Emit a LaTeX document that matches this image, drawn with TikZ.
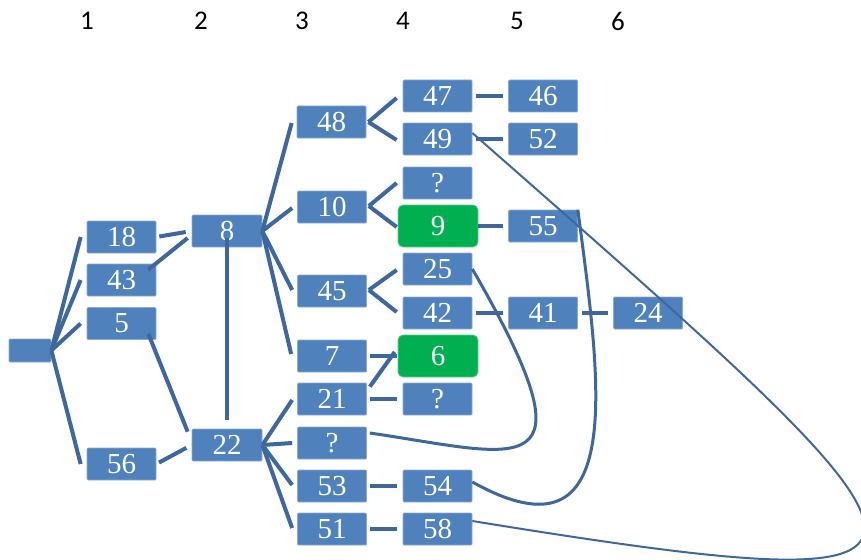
\documentclass[tikz,border=0pt]{standalone}
\usepackage{fontspec}
\newfontfamily\hdrfont{Carlito}
\newfontfamily\boxfont{Liberation Serif}
\usetikzlibrary{calc}
\definecolor{boxblue}{HTML}{4F81BD}
\definecolor{boxedge}{HTML}{8DAAD6}
\definecolor{boxgreen}{HTML}{00B050}
\definecolor{greenedge}{HTML}{5CCB8C}
\definecolor{linkcol}{HTML}{3E679E}
\begin{document}
\begin{tikzpicture}[x=1pt,y=-1pt,
  bx/.style={rectangle, fill=boxblue, draw=boxedge, line width=0.7pt, rounded corners=1pt,
    minimum width=69pt, minimum height=32pt, inner sep=0pt, text=white,
    font=\boxfont\fontsize{29}{30}\selectfont},
  gbx/.style={bx, fill=boxgreen, draw=greenedge, rounded corners=5pt,
    minimum width=80pt, minimum height=42pt},
  hdr/.style={font=\hdrfont\fontsize{27}{28}\selectfont, text=black, inner sep=0pt},
  lk/.style={draw=linkcol, line width=4pt},
  cv/.style={draw=linkcol, line width=3pt},
  cvthin/.style={draw=linkcol, line width=2pt}]
\useasboundingbox (0,0) rectangle (861,559);
\clip (0,0) rectangle (861,559);

% column headers
\node[hdr] (h1) at (87,21) {1};
\node[hdr] (h2) at (201,21) {2};
\node[hdr] (h3) at (302,21) {3};
\node[hdr] (h4) at (403,21) {4};
\node[hdr] (h5) at (517,21) {5};
\node[hdr] (h6) at (618,21) {6};

% boxes
\node[bx, minimum width=42pt, minimum height=23pt] (root) at (30,350.5) {};
\node[bx] (n18) at (121.5,237) {18};
\node[bx] (n43) at (121.5,280) {43};
\node[bx] (n5)  at (121.5,323.5) {5};
\node[bx] (n56) at (121.5,464) {56};
\node[bx, minimum width=70pt] (n8)  at (227,231) {8};
\node[bx, minimum width=70pt] (n22) at (227,445) {22};
\node[bx] (n48) at (331.5,122) {48};
\node[bx] (n10) at (332,207) {10};
\node[bx] (n45) at (332,291) {45};
\node[bx] (n7)  at (332,356) {7};
\node[bx] (n21) at (332,399) {21};
\node[bx] (q3)  at (332,443) {?};
\node[bx] (n53) at (332,486) {53};
\node[bx] (n51) at (332,529) {51};
\node[bx] (n47) at (437.5,96) {47};
\node[bx] (n49) at (437.5,139) {49};
\node[bx] (qa)  at (437.5,183) {?};
\node[gbx] (n9) at (438,226) {9};
\node[bx] (n25) at (437.5,269) {25};
\node[bx] (n42) at (437.5,313) {42};
\node[gbx] (n6) at (438,356) {6};
\node[bx] (qb)  at (437.5,399) {?};
\node[bx] (n54) at (437.5,486) {54};
\node[bx] (n58) at (437.5,529) {58};
\node[bx] (n46) at (543,96) {46};
\node[bx] (n52) at (543,139) {52};
\node[bx] (n55) at (543,226) {55};
\node[bx] (n41) at (543,313) {41};
\node[bx] (n24) at (648,313) {24};

% root fan
\foreach \c in {n18,n43,n5,n56}
  \draw[lk] (root.east) -- ($(\c.west)+(-6,0)$);

% column 1 -> 2
\draw[lk, shorten <=3pt, shorten >=6pt] (n18.east) -- (n8.west);
\draw[lk] ($(n43.north east)+(-8,6)$) -- ($(n8.west)+(-4,7)$);
\draw[lk] ($(n5.south east)+(-8,-6)$) -- ($(n22.north west)+(-4,3)$);
\draw[lk, shorten <=3pt, shorten >=6pt] (n56.east) -- (n22.west);
\draw[lk] ($(n8.center)+(0,7)$) -- ($(n22.north)+(0,-9)$);

% fans from 8 and 22
\draw[lk] (n8.east) -- ($(n48.west)+(-5,1)$);
\draw[lk] (n8.east) -- ($(n10.west)+(-5,1)$);
\draw[lk] (n8.east) -- ($(n45.west)+(-5,-1)$);
\draw[lk] (n8.east) -- ($(n7.west)+(-6,-2)$);
\draw[lk] (n22.east) -- ($(n21.west)+(-5,1)$);
\draw[lk] (n22.east) -- ($(q3.west)+(-5,0)$);
\draw[lk] (n22.east) -- ($(n53.west)+(-5,-1)$);
\draw[lk] (n22.east) -- ($(n51.west)+(-5,-1)$);

% fans in column 3
\draw[lk] ($(n48.east)+(2,0)$) -- ($(n47.west)+(-6,2)$);
\draw[lk] ($(n48.east)+(2,0)$) -- ($(n49.west)+(-6,1)$);
\draw[lk] ($(n10.east)+(2,-1)$) -- ($(qa.west)+(-6,0)$);
\draw[lk] ($(n10.east)+(2,-1)$) -- ($(n9.west)+(-1,1)$);
\draw[lk] ($(n45.east)+(2,-1)$) -- ($(n25.west)+(-6,1)$);
\draw[lk] ($(n45.east)+(2,-1)$) -- ($(n42.west)+(-6,-1)$);

% short horizontal links
\draw[lk, shorten <=4pt, shorten >=5pt] (n47) -- (n46);
\draw[lk, shorten <=4pt, shorten >=5pt] (n49) -- (n52);
\draw[lk, shorten <=0pt, shorten >=5pt] (n9) -- (n55);
\draw[lk, shorten <=4pt, shorten >=5pt] (n42) -- (n41);
\draw[lk, shorten <=4pt, shorten >=5pt] (n41) -- (n24);
\draw[lk, shorten <=3pt, shorten >=1pt] (n7) -- (n6);
\draw[lk] ($(n21.north east)+(3,4)$) -- ($(n6.west)+(-3,-4)$);
\draw[lk, shorten <=3pt, shorten >=6pt] (n21) -- (qb);
\draw[lk, shorten <=3pt, shorten >=6pt] (n53) -- (n54);
\draw[lk, shorten <=3pt, shorten >=6pt] (n51) -- (n58);

% curves
\draw[cv] (n25.east) .. controls (600,490) and (520,455) .. ($(q3.east)+(3,-10)$);
\draw[cv] ($(n54.east)+(0,-4)$) .. controls (630,570) and (600,380) .. (n55.north east);
\draw[cvthin] ($(n49.east)+(0,-6)$) .. controls (970,570) and (1020,610) .. ($(n58.east)+(0,-8)$);
\end{tikzpicture}
\end{document}
